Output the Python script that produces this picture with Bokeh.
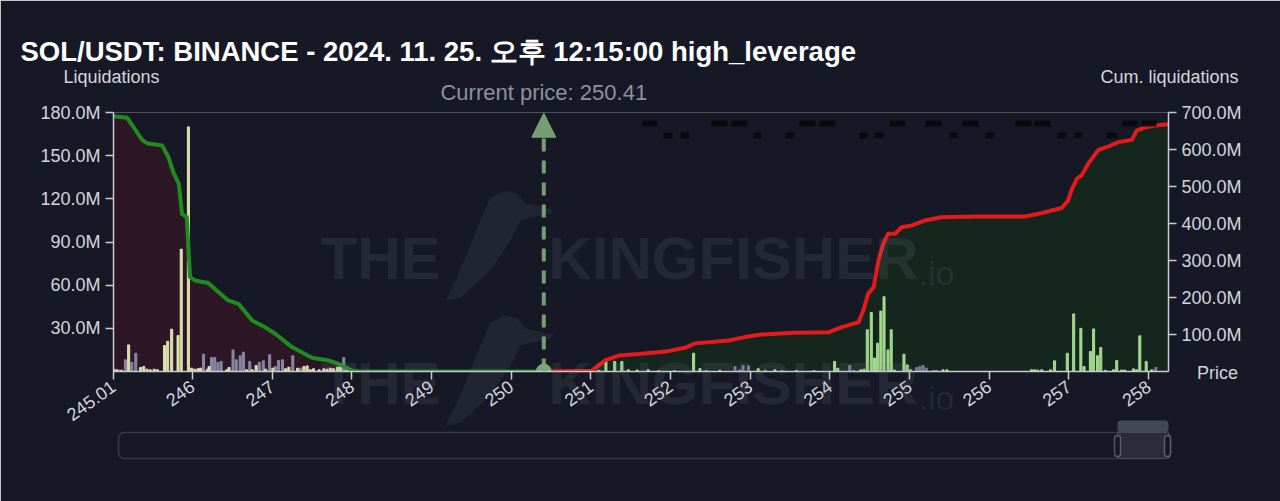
from bokeh.plotting import figure
from bokeh.layouts import column
from bokeh.models import (Range1d, LinearAxis, FixedTicker, CustomJSTickFormatter,
                          BoxAnnotation, Arrow, NormalHead, ColumnDataSource)
from bokeh.core.properties import value
from bokeh.embed import file_html
from bokeh.resources import INLINE

# ---------------- data (values in millions USD) ----------------
current_price = 250.41
price_min, price_max = 245.01, 258.25

x_ticks = [245.01, 246, 247, 248, 249, 250, 251, 252, 253, 254, 255, 256, 257, 258]
left_ticks = [30, 60, 90, 120, 150, 180]
right_ticks = [100, 200, 300, 400, 500, 600, 700]

# cumulative long liquidations (left of current price)
green_price = [245.01, 245.18, 245.37, 245.43, 245.62, 245.70, 245.76, 245.83, 245.87, 245.93,
               245.97, 246.03, 246.20, 246.33, 246.45, 246.58, 246.75, 246.91, 247.04, 247.25,
               247.50, 247.71, 247.83, 248.00, 248.10, 249.00, 250.41]
green_cum = [690, 686, 626, 617, 611, 579, 539, 507, 426, 417,
             255, 246, 239, 214, 192, 183, 138, 120, 102, 66,
             37, 30, 21, 3, 0, 0, 0]

# cumulative short liquidations (right of current price)
red_price = [250.41, 251.01, 251.18, 251.35, 251.64, 251.97, 252.18, 252.31, 252.73, 252.93,
             253.14, 253.56, 253.98, 254.15, 254.36, 254.42, 254.48, 254.55, 254.61, 254.67,
             254.73, 254.82, 254.90, 255.03, 255.19, 255.40, 255.82, 256.45, 256.66, 256.78,
             256.91, 256.99, 257.03, 257.10, 257.16, 257.24, 257.37, 257.49, 257.62, 257.79,
             257.85, 257.96, 258.08, 258.25]
red_cum = [0, 2, 30, 43, 48, 55, 64, 76, 84, 93,
           100, 105, 106, 120, 133, 165, 210, 228, 300, 345,
           372, 372, 390, 395, 408, 417, 419, 419, 428, 435,
           442, 462, 489, 521, 530, 561, 599, 608, 620, 626,
           651, 660, 665, 668]

# liquidation bars, left side
left_hi_price = [245.01, 245.05, 245.11, 245.20, 245.35, 245.39, 245.43, 245.47, 245.52, 245.56,
                 245.65, 245.69, 245.74, 245.82, 245.86, 245.95, 245.99, 246.03, 246.07, 246.10,
                 246.19, 246.21, 246.43, 246.46, 246.68, 246.75, 246.80, 246.92, 247.01, 247.17,
                 247.21, 247.32, 247.40, 247.44, 247.48, 247.52, 247.59, 247.65, 247.69, 247.73,
                 247.77, 247.82, 247.86, 247.94, 247.98]
left_hi_val = [1.6, 1.2, 0.9, 18.5, 2.8, 3.5, 1.6, 1.2, 1.6, 1.2,
               18, 21, 29.4, 25, 85, 170, 2.3, 1.6, 1.9, 2.3,
               1.6, 3.5, 1.2, 2.8, 1.2, 1.2, 4.2, 1.6, 2.3, 1.9,
               3, 2.3, 3.5, 3.9, 1.2, 1.9, 1.2, 1.9, 1.6, 2.3,
               1.9, 3, 3.5, 1.6, 1.2]
left_lo_price = [245.08, 245.16, 245.24, 245.29, 246.14, 246.24, 246.28, 246.32, 246.36, 246.51,
                 246.55, 246.60, 246.64, 246.72, 246.84, 246.89, 246.97, 247.04, 247.08, 247.13,
                 247.26, 247.36, 247.90]
left_lo_val = [1.0, 8.1, 6.3, 12.7, 12.0, 9.7, 9.7, 6.3, 7.0, 15.0,
               8.1, 10.9, 13.4, 7.0, 6.3, 7.4, 11.6, 3.5, 7.6, 8.1,
               10.9, 2.3, 9.7]

# liquidation bars, right side
right_hi_price = [251.10, 251.19, 251.30, 251.39, 251.47, 251.58, 251.72, 251.85, 252.05, 252.29,
                  252.37, 252.45, 252.62, 253.10, 253.31, 253.40, 253.58, 253.80, 254.06, 254.10,
                  254.39, 254.43, 254.47, 254.52, 254.56, 254.60, 254.64, 254.68, 254.73, 254.77,
                  254.81, 254.93, 254.97, 255.01, 255.42, 255.47, 256.53, 256.57, 256.61, 256.66,
                  256.77, 256.82, 256.98, 257.06, 257.15, 257.19, 257.27, 257.31, 257.36, 257.40,
                  257.46, 257.56, 257.60, 257.66, 257.70, 257.81, 257.85, 257.89, 257.97, 258.04]
right_hi_val = [0.8, 8.6, 7.0, 7.0, 1.2, 1.0, 1.2, 0.6, 0.6, 12.7,
                2.0, 0.6, 0.8, 1.9, 1.2, 0.6, 0.8, 0.6, 7.0, 2.3,
                1.2, 1.6, 29, 41, 9.3, 19.7, 42, 52, 15, 29,
                1.0, 12, 4.6, 1.2, 1.2, 1.2, 1.2, 1.2, 1.0, 1.2,
                1.2, 7.4, 12.7, 40, 30, 3.5, 13.9, 29.6, 11, 16.7,
                0.8, 1.2, 7.6, 1.0, 1.0, 1.8, 1.2, 24.8, 7.0, 1.2]
right_lo_price = [252.81, 252.87, 252.91, 252.98, 253.19, 254.25, 254.30, 255.09, 255.13, 255.17,
                  255.21, 255.30, 255.34, 258.09]
right_lo_val = [3.5, 1.2, 4.0, 4.0, 1.0, 4.2, 0.8, 2.8, 3.5, 4.2,
                2.3, 0.8, 0.8, 2.8]

# ---------------- layout / style ----------------
W_PX, H_PX = 1280, 501
F_LEFT, F_RIGHT, F_TOP, F_BOTTOM = 113, 112, 112, 130
BG = "#161925"
AXIS = "#c9cbd3"
TXT = "#d3d5dd"
FONT = "Liberation Sans"

p = figure(width=W_PX, height=H_PX, x_range=Range1d(price_min, price_max), y_range=Range1d(0, 180),
           output_backend="svg", toolbar_location=None,
           background_fill_color=BG, border_fill_color=BG, outline_line_color=None,
           min_border_left=F_LEFT, min_border_right=F_RIGHT, min_border_top=F_TOP,
           min_border_bottom=F_BOTTOM)
p.frame_align = False
p.extra_y_ranges = {"cum": Range1d(0, 700)}
p.xgrid.visible = False
p.ygrid.visible = False

def style_axis(ax):
    ax.axis_line_color = AXIS
    ax.axis_line_width = 1.5
    ax.major_tick_line_color = AXIS
    ax.major_tick_line_width = 1.5
    ax.major_tick_out = 8
    ax.major_tick_in = 0
    ax.minor_tick_line_color = None
    ax.major_label_text_color = TXT
    ax.major_label_text_font = FONT
    ax.major_label_text_font_size = "18px"
    ax.major_label_standoff = 5

xa = p.xaxis[0]
style_axis(xa)
xa.ticker = FixedTicker(ticks=x_ticks)
xa.formatter = CustomJSTickFormatter(code="return Number.isInteger(tick) ? tick.toFixed(0) : tick.toFixed(2);")
xa.major_label_orientation = 0.62

ya = p.yaxis[0]
style_axis(ya)
ya.ticker = FixedTicker(ticks=left_ticks)
ya.formatter = CustomJSTickFormatter(code="return tick.toFixed(1) + 'M';")

ra = LinearAxis(y_range_name="cum")
style_axis(ra)
ra.ticker = FixedTicker(ticks=right_ticks)
ra.formatter = CustomJSTickFormatter(code="return tick.toFixed(1) + 'M';")
p.add_layout(ra, "right")

# area fills under cumulative curves
gsrc = ColumnDataSource(dict(x=green_price, y=green_cum))
rsrc = ColumnDataSource(dict(x=red_price, y=red_cum))
p.varea(x="x", y1=0, y2="y", source=gsrc, y_range_name="cum", fill_color="#2d1626", fill_alpha=1)
p.varea(x="x", y1=0, y2="y", source=rsrc, y_range_name="cum", fill_color="#15261f", fill_alpha=1)

# bars
BW = 0.026
p.vbar(x=left_lo_price, top=left_lo_val, width=BW, color="#8b8ba8", alpha=0.95)
p.vbar(x=left_hi_price, top=left_hi_val, width=BW, color="#e2e8b2", alpha=0.95)
p.vbar(x=right_lo_price, top=right_lo_val, width=BW, color="#7e7c9b", alpha=0.95)
p.vbar(x=right_hi_price, top=right_hi_val, width=BW, color="#a7df8f", alpha=0.95)

# cumulative lines
p.line(x="x", y="y", source=gsrc, y_range_name="cum", line_color="#1f8c1f", line_width=4,
       line_join="round", line_cap="round")
p.line(x="x", y="y", source=rsrc, y_range_name="cum", line_color="#e31b1b", line_width=4,
       line_join="round", line_cap="round")

# current price marker
CP = "#7aa577"
p.add_layout(Arrow(x_start=current_price, y_start=0, x_end=current_price, y_end=179.5,
                   line_color=CP, line_width=4, line_dash="13 9", line_alpha=0.95,
                   end=NormalHead(size=24, fill_color=CP, line_color=CP, fill_alpha=0.95)))
p.scatter(x=[current_price], y=[0], size=15, color=CP)

# ---------------- overlay (texts, watermark, navigator), pixel coordinates ----------------
o = figure(width=W_PX, height=H_PX, x_range=Range1d(0, W_PX), y_range=Range1d(H_PX, 0),
           output_backend="svg", toolbar_location=None, x_axis_type=None, y_axis_type=None,
           min_border=0, min_border_left=0, min_border_right=0, min_border_top=0,
           min_border_bottom=0, background_fill_alpha=0, border_fill_alpha=0,
           outline_line_color=None)
o.frame_align = False
o.xgrid.visible = False
o.ygrid.visible = False
o.margin = (-H_PX, 0, 0, 0)

frame_w = W_PX - F_LEFT - F_RIGHT
cp_px = F_LEFT + (current_price - price_min) / (price_max - price_min) * frame_w

def txt(x, y, s, size, color=TXT, align="left", style="normal", font=FONT, alpha=1.0):
    o.text(x=[x], y=[y], text=[s], text_font=value(font), text_font_size=size,
           text_color=color, text_align=align, text_baseline="middle",
           text_font_style=style, text_alpha=alpha)

# watermark (two copies): text + rough kingfisher silhouette
WMC, WMA = "#8a90a8", 0.12
bird_dx = [70, 55, 45, 35, 20, 10, 25, 55, 75, 85, 115, 118, 90, 82]
bird_dy = [5, 12, 35, 60, 95, 115, 112, 85, 55, 35, 28, 24, 18, 8]
for top in (185, 310):
    mid = top + 73
    txt(320, mid, "THE", "60px", WMC, style="bold", alpha=WMA)
    txt(548, mid, "KINGFISHER", "60px", WMC, style="bold", alpha=WMA)
    txt(918, mid + 14, ".io", "34px", WMC, alpha=WMA)
    o.patch([435 + d for d in bird_dx], [top + d for d in bird_dy], fill_color=WMC,
            fill_alpha=0.1, line_color=None)

# redacted helper labels at the top of the plot
marks_row1 = [(642, 657), (711, 727), (731, 747), (799, 815), (819, 835), (889, 905),
              (925, 941), (962, 978), (1015, 1031), (1034, 1050), (1122, 1138), (1141, 1156)]
marks_row2 = [(663, 672), (680, 689), (753, 761), (785, 794), (859, 867), (874, 883),
              (949, 957), (985, 994), (1057, 1066), (1074, 1082), (1106, 1116)]
for row, yc in ((marks_row1, 123), (marks_row2, 135)):
    o.quad(left=[a for a, b in row], right=[b for a, b in row], top=yc - 3, bottom=yc + 3,
           fill_color="#07080b", fill_alpha=0.85, line_color=None)

txt(20, 51, "SOL/USDT: BINANCE - 2024. 11. 25. 오후 12:15:00 high_leverage", "27.5px",
    "#ffffff", style="bold")
txt(111, 76, "Liquidations", "18px", align="center")
txt(1169, 76, "Cum. liquidations", "18px", align="center")
txt(1217, 372, "Price", "18px", align="center")
txt(cp_px, 92, "Current price: %.2f" % current_price, "22px", "#8d919d", align="center")

# range navigator
o.add_layout(BoxAnnotation(left=118, right=1170, top=432, bottom=458, fill_alpha=0,
                           line_color="#80848f", line_width=1.5, border_radius=6))
o.add_layout(BoxAnnotation(left=1117, right=1168, top=432, bottom=458, fill_color="#2a2d39",
                           fill_alpha=1, line_color="#80848f", line_width=1))
o.add_layout(BoxAnnotation(left=1117, right=1168, top=420, bottom=432, fill_color="#444754",
                           fill_alpha=1, line_color=None, border_radius=4))
for gx in (1114, 1164):
    o.add_layout(BoxAnnotation(left=gx, right=gx + 6, top=435, bottom=456, fill_color=BG,
                               fill_alpha=1, line_color="#e6e7ec", line_width=1.5,
                               border_radius=3))
txt(1142, 426, "III", "9px", "#ffffff", align="center", style="bold")

layout = column(p, o)
html = file_html(layout, INLINE)
html = html.replace("<body>", '<body style="margin:0;background:%s">' % BG, 1)
open("out.html", "w").write(html)
